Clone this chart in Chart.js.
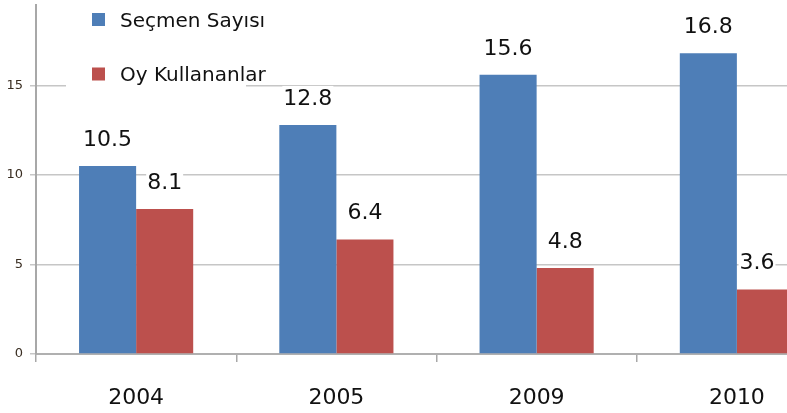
<!DOCTYPE html>
<html lang="tr">
<head>
  <meta charset="UTF-8">
  <title>Seçmen Sayısı</title>
  <script src="https://cdn.jsdelivr.net/npm/chart.js"></script>
  <style>
    html, body {
      margin: 0;
      padding: 0;
      background: #ffffff;
      overflow: hidden;
    }
    .wrap {
      position: relative;
      width: 840px;
      height: 413px;
    }
  </style>
</head>
<body>
  <div class="wrap"><canvas id="chart"></canvas></div>

  <script>
    const years = ['2004', '2005', '2009', '2010'];
    const voters = [10.5, 12.8, 15.6, 16.8];
    const turnout = [8.1, 6.4, 4.8, 3.6];
    const seriesNames = ['Seçmen Sayısı', 'Oy Kullananlar'];
    const seriesColors = ['#4E7EB7', '#BC504D'];
    const yTicks = [0, 5, 10, 15];

    const font = 'DejaVu Sans, sans-serif';
    const viewWidth = 787; // the page only shows this much of the canvas

    // value labels above the bars + the legend box in the top left
    const overlay = {
      id: 'overlay',
      afterDatasetsDraw(chart) {
        const ctx = chart.ctx;
        ctx.save();
        ctx.font = '22px ' + font;
        ctx.textAlign = 'center';
        ctx.textBaseline = 'middle';
        chart.data.datasets.forEach((ds, i) => {
          chart.getDatasetMeta(i).data.forEach((bar, j) => {
            const txt = ds.data[j].toFixed(1);
            const w = ctx.measureText(txt).width;
            const x = Math.min(bar.x, viewWidth - w / 2 - 12.5);
            const y = bar.y - 26;
            ctx.fillStyle = '#ffffff';
            ctx.fillRect(x - w / 2 - 1, y - 13, w + 2, 26);
            ctx.fillStyle = '#111111';
            ctx.fillText(txt, x, y);
          });
        });

        ctx.fillStyle = '#ffffff';
        ctx.fillRect(66, 0, 180, 96);
        ctx.font = '20px ' + font;
        ctx.textAlign = 'left';
        const rows = [19.5, 74];
        chart.data.datasets.forEach((ds, i) => {
          ctx.fillStyle = ds.backgroundColor;
          ctx.fillRect(92, rows[i] - 6.5, 13, 13);
          ctx.fillStyle = '#111111';
          ctx.fillText(ds.label, 120, rows[i] + 2);
        });
        ctx.restore();
      }
    };

    new Chart(document.getElementById('chart'), {
      type: 'bar',
      data: {
        labels: years,
        datasets: [
          { label: seriesNames[0], data: voters, backgroundColor: seriesColors[0] },
          { label: seriesNames[1], data: turnout, backgroundColor: seriesColors[1] }
        ]
      },
      options: {
        responsive: true,
        maintainAspectRatio: false,
        animation: false,
        layout: { padding: { top: 5, right: 3, left: 0, bottom: 0 } },
        datasets: {
          bar: { categoryPercentage: 0.57, barPercentage: 1.0 }
        },
        plugins: {
          legend: { display: false },
          tooltip: { enabled: false }
        },
        scales: {
          x: {
            afterFit: s => { s.height = 59; s.paddingLeft = 0; s.paddingRight = 0; },
            grid: {
              offset: true,
              drawOnChartArea: false,
              tickLength: 8,
              color: '#a8a8a8',
              lineWidth: 1.5
            },
            border: { color: '#b0b0b0', width: 2 },
            ticks: {
              padding: 23,
              color: '#111111',
              font: { family: font, size: 22 }
            }
          },
          y: {
            min: 0,
            max: 19.5,
            afterFit: s => { s.width = 36; s.paddingTop = 0; s.paddingBottom = 0; },
            afterBuildTicks: s => {
              s.ticks = yTicks.map(v => ({ value: v }));
            },
            grid: {
              color: '#c6c6c6',
              lineWidth: 1.5,
              tickLength: 6
            },
            border: { color: '#a8a8a8', width: 2 },
            ticks: {
              padding: 7,
              color: '#3a2e22',
              font: { family: font, size: 13 }
            }
          }
        }
      },
      plugins: [overlay]
    });
  </script>
</body>
</html>
